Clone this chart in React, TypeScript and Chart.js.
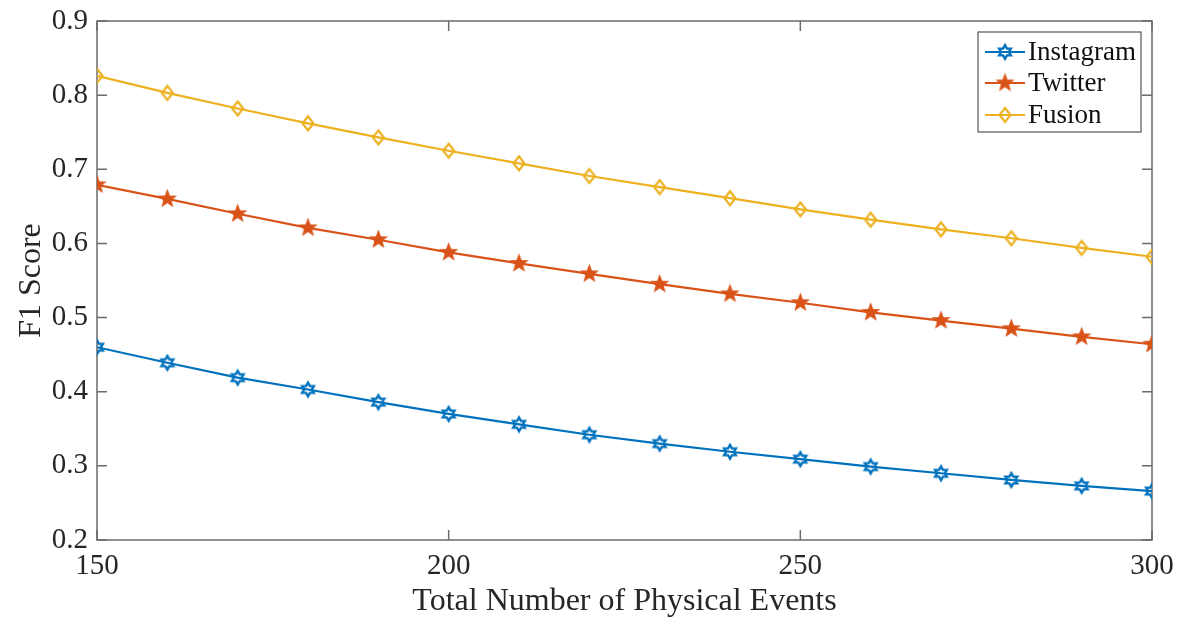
import React, { useEffect, useRef } from 'react';
import { Chart, registerables } from 'chart.js';
Chart.register(...registerables);

const xValues = [150, 160, 170, 180, 190, 200, 210, 220, 230, 240, 250, 260, 270, 280, 290, 300];
const instagram = [0.460, 0.439, 0.419, 0.403, 0.386, 0.370, 0.356, 0.342, 0.330, 0.319, 0.309, 0.299, 0.290, 0.281, 0.273, 0.266];
const twitter = [0.679, 0.660, 0.640, 0.621, 0.605, 0.588, 0.573, 0.559, 0.545, 0.532, 0.520, 0.507, 0.496, 0.485, 0.474, 0.464];
const fusion = [0.826, 0.803, 0.782, 0.762, 0.743, 0.725, 0.708, 0.691, 0.676, 0.661, 0.646, 0.632, 0.619, 0.607, 0.594, 0.582];
const seriesNames = ['Instagram', 'Twitter', 'Fusion'];
const seriesColors = ['#0072BD', '#D95319', '#EDB120'];
const xTicks = [150, 200, 250, 300];
const yTicks = [0.2, 0.3, 0.4, 0.5, 0.6, 0.7, 0.8, 0.9];
const xTitle = 'Total Number of Physical Events';
const yTitle = 'F1 Score';

const FONT = '"Liberation Serif", "Times New Roman", serif';

function starCanvas(points: number, outer: number, inner: number, color: string, fill: boolean, lw: number) {
  const size = Math.ceil(outer * 2 + lw + 4);
  const c = document.createElement('canvas');
  c.width = size;
  c.height = size;
  const ctx = c.getContext('2d')!;
  const cx = size / 2, cy = size / 2;
  ctx.beginPath();
  for (let i = 0; i < points * 2; i++) {
    const r = i % 2 === 0 ? outer : inner;
    const a = -Math.PI / 2 + (i * Math.PI) / points;
    const px = cx + r * Math.cos(a);
    const py = cy + r * Math.sin(a);
    if (i === 0) ctx.moveTo(px, py); else ctx.lineTo(px, py);
  }
  ctx.closePath();
  ctx.lineJoin = 'miter';
  if (fill) { ctx.fillStyle = color; ctx.fill(); }
  ctx.strokeStyle = color;
  ctx.lineWidth = lw;
  ctx.stroke();
  return c;
}

function diamondCanvas(w: number, h: number, color: string, lw: number) {
  const cw = Math.ceil(w + lw + 4), ch = Math.ceil(h + lw + 4);
  const c = document.createElement('canvas');
  c.width = cw;
  c.height = ch;
  const ctx = c.getContext('2d')!;
  const cx = cw / 2, cy = ch / 2;
  ctx.beginPath();
  ctx.moveTo(cx, cy - h / 2);
  ctx.lineTo(cx + w / 2, cy);
  ctx.lineTo(cx, cy + h / 2);
  ctx.lineTo(cx - w / 2, cy);
  ctx.closePath();
  ctx.strokeStyle = color;
  ctx.lineWidth = lw;
  ctx.stroke();
  return c;
}

export default function App() {
  const ref = useRef<HTMLCanvasElement>(null);
  useEffect(() => {
    const markers = [
      starCanvas(6, 6.8, 3.9, seriesColors[0], false, 2.4),
      starCanvas(5, 8.5, 3.6, seriesColors[1], true, 1.2),
      diamondCanvas(11, 14, seriesColors[2], 2.2),
    ];
    const boxPlugin = {
      id: 'boxPlugin',
      beforeDatasetsDraw(chart: any) {
        const { ctx, chartArea: a, scales } = chart;
        ctx.save();
        ctx.strokeStyle = '#6b6b6b';
        ctx.lineWidth = 1.5;
        ctx.strokeRect(a.left, a.top, a.right - a.left, a.bottom - a.top);
        const tl = 10;
        ctx.beginPath();
        xTicks.forEach((v) => {
          const px = scales.x.getPixelForValue(v);
          ctx.moveTo(px, a.bottom); ctx.lineTo(px, a.bottom - tl);
          ctx.moveTo(px, a.top); ctx.lineTo(px, a.top + tl);
        });
        yTicks.forEach((v) => {
          const py = scales.y.getPixelForValue(v);
          ctx.moveTo(a.left, py); ctx.lineTo(a.left + tl, py);
          ctx.moveTo(a.right, py); ctx.lineTo(a.right - tl, py);
        });
        ctx.stroke();
        ctx.restore();
      },
    };
    const legendPlugin = {
      id: 'customLegend',
      afterDraw(chart: any) {
        const { ctx } = chart;
        ctx.save();
        const bx = 978, by = 32, bw = 163, bh = 100;
        ctx.fillStyle = '#ffffff';
        ctx.fillRect(bx, by, bw, bh);
        ctx.strokeStyle = '#555555';
        ctx.lineWidth = 1.2;
        ctx.strokeRect(bx, by, bw, bh);
        const rows = [52, 83, 115];
        ctx.font = `27px ${FONT}`;
        ctx.textBaseline = 'middle';
        ctx.textAlign = 'left';
        seriesNames.forEach((name, i) => {
          const y = rows[i];
          ctx.strokeStyle = seriesColors[i];
          ctx.lineWidth = 2.2;
          ctx.beginPath();
          ctx.moveTo(985, y);
          ctx.lineTo(1025, y);
          ctx.stroke();
          const m = markers[i];
          ctx.drawImage(m, 1005 - m.width / 2, y - m.height / 2);
          ctx.fillStyle = '#111111';
          ctx.fillText(name, 1028, y + 1);
        });
        ctx.restore();
      },
    };
    const makeData = (arr: number[]) => xValues.map((x, i) => ({ x, y: arr[i] }));
    const allSeries = [instagram, twitter, fusion];
    const chart = new Chart(ref.current!, {
      type: 'line',
      data: {
        datasets: allSeries.map((arr, i) => ({
          label: seriesNames[i],
          data: makeData(arr),
          borderColor: seriesColors[i],
          backgroundColor: seriesColors[i],
          borderWidth: 2.2,
          pointStyle: markers[i] as any,
          pointRadius: 6,
          tension: 0,
          fill: false,
        })),
      },
      options: {
        responsive: false,
        animation: false,
        devicePixelRatio: 1,
        layout: { padding: { top: 21, right: 29, left: 0, bottom: 0 } },
        plugins: { legend: { display: false }, tooltip: { enabled: false } },
        scales: {
          x: {
            type: 'linear',
            min: 150,
            max: 300,
            afterFit: (s: any) => { s.height = 81; s.paddingLeft = 0; s.paddingRight = 0; },
            afterBuildTicks: (s: any) => { s.ticks = xTicks.map((v) => ({ value: v })); },
            grid: { display: false, drawTicks: false },
            border: { display: false },
            ticks: {
              padding: 9,
              color: '#262626',
              font: { family: FONT, size: 29 },
              maxRotation: 0,
              callback: (v: any) => String(v),
            },
            title: {
              display: true,
              text: xTitle,
              color: '#262626',
              font: { family: FONT, size: 32 },
              padding: { top: 0, bottom: 0 },
            },
          },
          y: {
            type: 'linear',
            min: 0.2,
            max: 0.9,
            afterFit: (s: any) => { s.width = 97; s.paddingTop = 0; s.paddingBottom = 0; },
            afterBuildTicks: (s: any) => { s.ticks = yTicks.map((v) => ({ value: v })); },
            grid: { display: false, drawTicks: false },
            border: { display: false },
            ticks: {
              padding: 9,
              color: '#262626',
              font: { family: FONT, size: 29 },
              callback: (v: any) => Number(v).toFixed(1),
            },
            title: {
              display: true,
              text: yTitle,
              color: '#262626',
              font: { family: FONT, size: 32 },
              padding: { top: 12, bottom: 0 },
            },
          },
        },
      },
      plugins: [boxPlugin, legendPlugin],
    });
    return () => chart.destroy();
  }, []);
  return (
    <div style={{ position: 'fixed', left: 0, top: 0, width: 1181, height: 621, background: '#fff' }}>
      <canvas ref={ref} width={1181} height={621} style={{ display: 'block' }} />
    </div>
  );
}
